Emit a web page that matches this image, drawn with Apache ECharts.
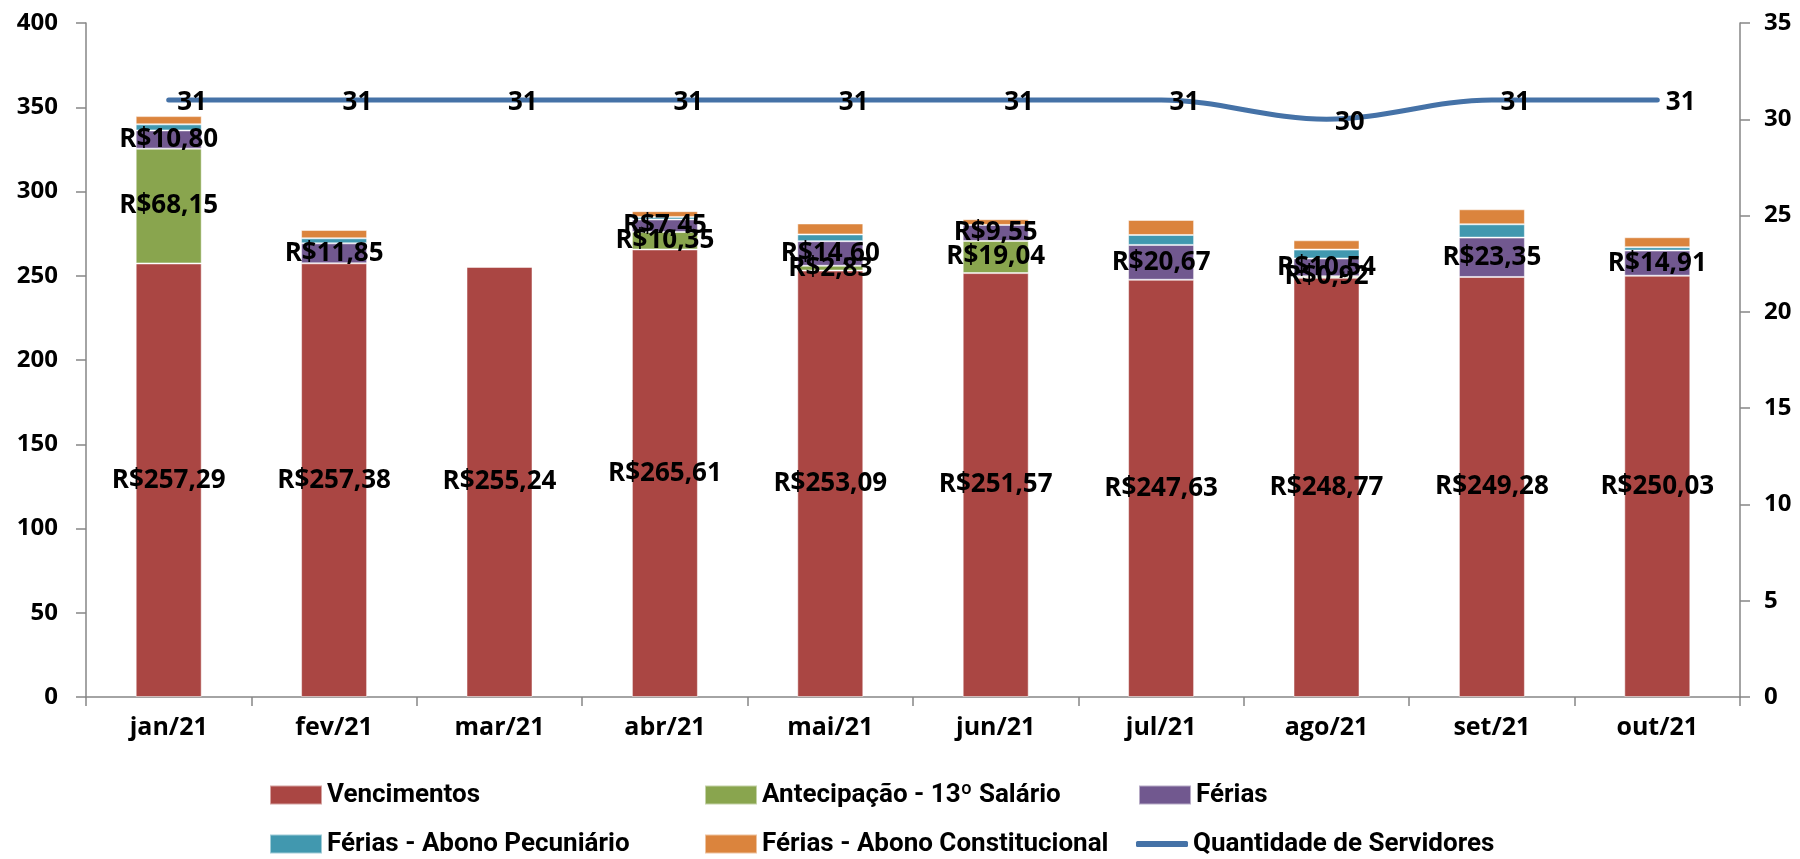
<!DOCTYPE html>
<html>
<head>
<meta charset="utf-8">
<script src="https://cdn.jsdelivr.net/npm/echarts@6/dist/echarts.min.js"></script>
<style>
html,body{margin:0;padding:0;background:#fff;}
#chart{width:1800px;height:859px;}
</style>
</head>
<body>
<div id="chart"></div>
<script>
const categories = ['jan/21','fev/21','mar/21','abr/21','mai/21','jun/21','jul/21','ago/21','set/21','out/21'];
const vencimentos = [257.29, 257.38, 255.24, 265.61, 253.09, 251.57, 247.63, 248.77, 249.28, 250.03];
const antecipacao13 = [68.15, null, null, 10.35, 2.83, 19.04, null, 0.92, null, null];
const ferias = [10.80, 11.85, null, 7.45, 14.60, 9.55, 20.67, 10.54, 23.35, 14.91];
const abonoPecuniario = [3.6, 3.0, null, 1.5, 4.0, null, 5.9, 5.3, 7.9, 2.0];
const abonoConstitucional = [4.9, 4.9, null, 3.4, 6.5, 3.4, 8.9, 5.5, 8.9, 5.9];
const servidores = [31, 31, 31, 31, 31, 31, 31, 30, 31, 31];
const leftTicks = {min: 0, max: 400, interval: 50};
const rightTicks = {min: 0, max: 35, interval: 5};

const colors = {
  venc: '#AA4643', ant: '#89A54E', fer: '#71588F', pec: '#4198AF', con: '#DB843D', line: '#4572A7'
};
const moneyFmt = p => (p.value == null ? '' : 'R$' + p.value.toFixed(2).replace('.', ','));
const barLabel = {
  show: true, position: 'inside', color: '#000', fontFamily: 'Open Sans', fontWeight: 'bold',
  fontSize: 26, formatter: moneyFmt
};
function bar(name, data, color, labelOn) {
  return {
    name, type: 'bar', stack: 'total', data, barWidth: 66,
    itemStyle: {color, borderColor: 'rgba(255,255,255,0.5)', borderWidth: 1},
    label: labelOn ? barLabel : {show: false},
    labelLayout: {hideOverlap: false}
  };
}
const legendText = {fontFamily: 'Roboto', fontWeight: 'bold', fontSize: 26, color: '#000'};
function lg(name, left, top, color, isLine) {
  return {
    data: [{name, icon: isLine ? 'roundRect' : 'rect', itemStyle: {color}}],
    left, top, itemWidth: 52, itemHeight: isLine ? 6 : 19, itemGap: 4,
    textStyle: legendText, selectedMode: false
  };
}
const axisFont = {color: '#000', fontFamily: 'Open Sans', fontWeight: 'bold', fontSize: 24};
const chart = echarts.init(document.getElementById('chart'));
chart.setOption({
  animation: false,
  color: [colors.venc, colors.ant, colors.fer, colors.pec, colors.con, colors.line],
  grid: {left: 86, right: 60, top: 23, bottom: 162},
  legend: [
    lg('Vencimentos', 264, 777, colors.venc),
    lg('Antecipação - 13º Salário', 699, 777, colors.ant),
    lg('Férias', 1133, 777, colors.fer),
    lg('Férias - Abono Pecuniário', 264, 826, colors.pec),
    lg('Férias - Abono Constitucional', 699, 826, colors.con),
    lg('Quantidade de Servidores', 1131, 826, colors.line, true)
  ],
  xAxis: {
    type: 'category', data: categories,
    axisLine: {lineStyle: {color: '#868686', width: 1.5}},
    axisTick: {show: true, length: 9, lineStyle: {color: '#868686', width: 1.5}},
    axisLabel: Object.assign({}, axisFont, {fontSize: 25, margin: 18})
  },
  yAxis: [
    {
      type: 'value', min: leftTicks.min, max: leftTicks.max, interval: leftTicks.interval,
      splitLine: {show: false},
      axisLine: {show: true, lineStyle: {color: '#868686', width: 1.5}},
      axisTick: {show: true, length: 10, lineStyle: {color: '#868686', width: 1.5}},
      axisLabel: Object.assign({}, axisFont, {margin: 28})
    },
    {
      type: 'value', position: 'right', min: rightTicks.min, max: rightTicks.max, interval: rightTicks.interval,
      splitLine: {show: false},
      axisLine: {show: true, lineStyle: {color: '#868686', width: 1.5}},
      axisTick: {show: true, length: 10, lineStyle: {color: '#868686', width: 1.5}},
      axisLabel: Object.assign({}, axisFont, {margin: 24})
    }
  ],
  series: [
    bar('Vencimentos', vencimentos, colors.venc, true),
    bar('Antecipação - 13º Salário', antecipacao13, colors.ant, true),
    bar('Férias', ferias, colors.fer, true),
    bar('Férias - Abono Pecuniário', abonoPecuniario, colors.pec, false),
    bar('Férias - Abono Constitucional', abonoConstitucional, colors.con, false),
    {
      name: 'Quantidade de Servidores', type: 'line', yAxisIndex: 1, data: servidores,
      smooth: 0.35, symbol: 'circle', symbolSize: 1, showSymbol: true, z: 10,
      lineStyle: {color: colors.line, width: 5, cap: 'round'},
      itemStyle: {color: colors.line},
      label: {show: true, position: 'right', distance: 8, color: '#000', fontFamily: 'Open Sans',
        fontWeight: 'bold', fontSize: 26, offset: [0, 3]}
    }
  ]
});
</script>
</body>
</html>
